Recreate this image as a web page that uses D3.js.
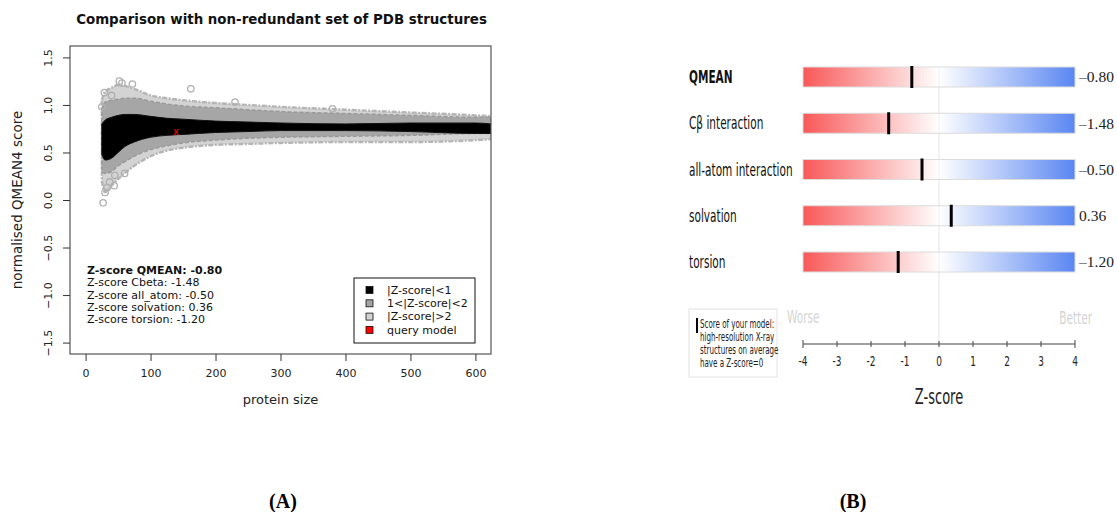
<!DOCTYPE html>
<html>
<head>
<meta charset="utf-8">
<script src="https://cdn.jsdelivr.net/npm/d3@7"></script>
<style>
  body { margin: 0; background: #fff; }
  svg { display: block; }
</style>
</head>
<body>
<div id="vis"></div>
<script>
// ---- panel A data ----
const sizes   = [25, 30, 40, 50, 60, 75, 100, 125, 150, 200, 250, 300, 400, 500, 600, 624];
const coreHi  = [0.80, 0.84, 0.87, 0.89, 0.90, 0.90, 0.88, 0.86, 0.85, 0.83, 0.82, 0.81, 0.80, 0.81, 0.81, 0.80];
const coreLo  = [0.48, 0.42, 0.44, 0.50, 0.56, 0.61, 0.66, 0.68, 0.69, 0.71, 0.72, 0.73, 0.73, 0.72, 0.70, 0.70];
const midHi   = [0.95, 1.03, 1.05, 1.06, 1.07, 1.07, 1.04, 1.01, 0.99, 0.97, 0.95, 0.93, 0.91, 0.89, 0.87, 0.87];
const midLo   = [0.30, 0.28, 0.30, 0.36, 0.40, 0.46, 0.53, 0.57, 0.60, 0.63, 0.65, 0.66, 0.67, 0.68, 0.70, 0.70];
const outHi   = [1.05, 1.14, 1.18, 1.21, 1.20, 1.17, 1.10, 1.07, 1.05, 1.02, 1.00, 0.98, 0.95, 0.92, 0.89, 0.88];
const outLo   = [0.20, 0.08, 0.15, 0.22, 0.28, 0.36, 0.46, 0.52, 0.55, 0.58, 0.59, 0.60, 0.61, 0.61, 0.63, 0.64];
const outlierSize  = [27, 30, 33, 44, 37, 52, 56, 72, 162, 29, 25, 60, 40, 230, 380, 45];
const outlierScore = [-0.03, 0.08, 0.13, 0.15, 0.19, 1.25, 1.23, 1.22, 1.17, 1.13, 0.98, 0.28, 1.10, 1.03, 0.96, 0.26];
const query = [139, 0.72];
const xTicksA = [0, 100, 200, 300, 400, 500, 600];
const yTicksA = [-1.5, -1.0, -0.5, 0.0, 0.5, 1.0, 1.5];
const legendLabels = ['|Z-score|<1', '1<|Z-score|<2', '|Z-score|>2', 'query model'];
const legendColors = ['#000000', '#a3a3a3', '#d3d3d3', '#ff0000'];
const summaryNames = ['QMEAN', 'Cbeta', 'all_atom', 'solvation', 'torsion'];

// ---- panel B data ----
const terms   = ['QMEAN', 'Cβ interaction', 'all-atom interaction', 'solvation', 'torsion'];
const zscores = [-0.80, -1.48, -0.50, 0.36, -1.20];
const zTicks  = [-4, -3, -2, -1, 0, 1, 2, 3, 4];
const noteLines = ['Score of your model:', 'high-resolution X-ray', 'structures on average', 'have a Z-score=0'];

const W = 1117, H = 512;
const svg = d3.select('#vis').append('svg').attr('width', W).attr('height', H);

// ================= panel A =================
const PL = 70, PR = 491, PT = 46, PB = 354;
const x = d3.scaleLinear().domain([-24, 624]).range([PL, PR]);
const y = d3.scaleLinear().domain([-1.62, 1.62]).range([PB, PT]);
const sans = 'DejaVu Sans, Verdana, sans-serif';

svg.append('clipPath').attr('id', 'clipA')
  .append('rect').attr('x', PL).attr('y', PT).attr('width', PR - PL).attr('height', PB - PT);

const plotA = svg.append('g').attr('clip-path', 'url(#clipA)');

function band(lo, hi) {
  const rows = sizes.map((s, i) => ({ s, lo: lo[i], hi: hi[i] }));
  return d3.area().x(d => x(d.s)).y0(d => y(d.lo)).y1(d => y(d.hi)).curve(d3.curveMonotoneX)(rows);
}

plotA.append('path').attr('d', band(outLo, outHi))
  .attr('fill', '#d3d3d3').attr('stroke', '#b5b5b5').attr('stroke-width', 2.4)
  .attr('stroke-dasharray', '5,1.5,2,1.5');
plotA.append('path').attr('d', band(midLo, midHi))
  .attr('fill', '#a6a6a6').attr('stroke', '#9a9a9a').attr('stroke-width', 1.5)
  .attr('stroke-dasharray', '4,2');
plotA.append('path').attr('d', band(coreLo, coreHi))
  .attr('fill', '#000').attr('stroke', '#111').attr('stroke-width', 1);

plotA.selectAll('circle.out')
  .data(outlierSize.map((s, i) => [s, outlierScore[i]]))
  .join('circle')
  .attr('cx', d => x(d[0])).attr('cy', d => y(d[1])).attr('r', 3.2)
  .attr('fill', 'none').attr('stroke', '#b0b0b0').attr('stroke-width', 1.3);

plotA.append('text').attr('x', x(query[0])).attr('y', y(query[1]))
  .attr('text-anchor', 'middle').attr('dy', '0.3em')
  .style('font-family', sans).style('font-size', '10px').attr('fill', '#ff0000').text('x');

// frame
svg.append('rect').attr('x', PL).attr('y', PT).attr('width', PR - PL).attr('height', PB - PT)
  .attr('fill', 'none').attr('stroke', '#555').attr('stroke-width', 1.2);

// axes
const xAxisA = svg.append('g').attr('transform', `translate(0,${PB})`)
  .call(d3.axisBottom(x).tickValues(xTicksA).tickSize(7).tickPadding(8));
const yAxisA = svg.append('g').attr('transform', `translate(${PL},0)`)
  .call(d3.axisLeft(y).tickValues(yTicksA).tickSize(7).tickFormat(d3.format('.1f')));
[xAxisA, yAxisA].forEach(a => {
  a.select('.domain').remove();
  a.selectAll('line').attr('stroke', '#333');
  a.selectAll('text').style('font-family', sans).style('font-size', '11px').attr('fill', '#222');
});
yAxisA.selectAll('text')
  .attr('x', null).attr('dy', null)
  .attr('text-anchor', 'middle')
  .attr('transform', 'translate(-22,0) rotate(-90)')
  .attr('dy', '0.35em');

// titles
svg.append('text').attr('x', (PL + PR) / 2 + 1).attr('y', 24).attr('text-anchor', 'middle')
  .style('font-family', sans).style('font-size', '13.4px').style('font-weight', 'bold')
  .attr('fill', '#111').text('Comparison with non-redundant set of PDB structures');
svg.append('text').attr('x', (PL + PR) / 2).attr('y', 404).attr('text-anchor', 'middle')
  .style('font-family', sans).style('font-size', '13px').attr('fill', '#222').text('protein size');
svg.append('text').attr('transform', `translate(22,${(PT + PB) / 2}) rotate(-90)`)
  .attr('text-anchor', 'middle')
  .style('font-family', sans).style('font-size', '13.5px').attr('fill', '#222').text('normalised QMEAN4 score');

// z-score summary
svg.append('g').selectAll('text')
  .data(summaryNames.map((n, i) => `Z-score ${n}: ${zscores[i].toFixed(2)}`))
  .join('text')
  .attr('x', 87).attr('y', (d, i) => 274 + i * 12.3)
  .style('font-family', sans).style('font-size', '11px')
  .style('font-weight', (d, i) => i === 0 ? 'bold' : 'normal')
  .attr('fill', '#111').text(d => d);

// legend
const legA = svg.append('g');
legA.append('rect').attr('x', 354).attr('y', 278).attr('width', 121).attr('height', 65)
  .attr('fill', '#fff').attr('stroke', '#111').attr('stroke-width', 1);
const legRows = legA.selectAll('g').data(legendLabels).join('g')
  .attr('transform', (d, i) => `translate(0,${290 + i * 13.3})`);
legRows.append('rect').attr('x', 366).attr('y', -3.5).attr('width', 7).attr('height', 7)
  .attr('fill', (d, i) => legendColors[i]).attr('stroke', '#111').attr('stroke-width', 0.8);
legRows.append('text').attr('x', 387).attr('dy', '0.35em')
  .style('font-family', sans).style('font-size', '11px').attr('fill', '#111').text(d => d);

// ================= panel B =================
const zx = d3.scaleLinear().domain([-4, 4]).range([803, 1075]);
const rowY = d3.scalePoint().domain(terms).range([77, 262]);
const BAR_H = 20;
const SQ = 0.62; // panel B text is horizontally squeezed
const dejavu = 'DejaVu Sans, Verdana, sans-serif';

const grad = svg.append('defs').append('linearGradient').attr('id', 'zgrad')
  .attr('x1', '0%').attr('x2', '100%');
grad.append('stop').attr('offset', '0%').attr('stop-color', '#f85858');
grad.append('stop').attr('offset', '50%').attr('stop-color', '#ffffff');
grad.append('stop').attr('offset', '100%').attr('stop-color', '#5a86f2');

// zero line
svg.append('line').attr('x1', zx(0)).attr('x2', zx(0)).attr('y1', rowY(terms[0]) - BAR_H / 2).attr('y2', 344)
  .attr('stroke', '#e4e4e4').attr('stroke-width', 1);

const rows = svg.append('g').selectAll('g').data(terms).join('g')
  .attr('transform', d => `translate(0,${rowY(d)})`);

rows.append('rect').attr('x', zx(-4)).attr('y', -BAR_H / 2).attr('width', zx(4) - zx(-4)).attr('height', BAR_H)
  .attr('fill', 'url(#zgrad)').attr('stroke', '#dcdcdc').attr('stroke-width', 1);
rows.append('line').attr('x1', zx(0)).attr('x2', zx(0)).attr('y1', -BAR_H / 2).attr('y2', BAR_H / 2)
  .attr('stroke', '#e8e8e8').attr('stroke-width', 1).attr('opacity', 0.6);
rows.append('rect')
  .attr('x', (d, i) => zx(zscores[i]) - 1.5).attr('y', -BAR_H / 2 - 1)
  .attr('width', 3).attr('height', BAR_H + 2).attr('fill', '#000');

rows.append('text')
  .attr('transform', `translate(689,0) scale(${SQ},1)`)
  .attr('dy', '0.36em')
  .style('font-family', dejavu).style('font-size', '17px')
  .style('font-weight', (d, i) => i === 0 ? 'bold' : 'normal')
  .attr('fill', '#111').text(d => d);

rows.append('text').attr('x', 1079).attr('dy', '0.34em')
  .style('font-family', 'Liberation Serif, Times New Roman, serif').style('font-size', '15.5px')
  .attr('fill', '#222')
  .text((d, i) => (zscores[i] < 0 ? '\u2013' : '') + Math.abs(zscores[i]).toFixed(2));

// Worse / Better
svg.append('text').attr('transform', `translate(787,323) scale(${SQ},1)`)
  .style('font-family', dejavu).style('font-size', '17px').attr('fill', '#d4d4d4').text('Worse');
svg.append('text').attr('transform', `translate(1092,324) scale(${SQ},1)`).attr('text-anchor', 'end')
  .style('font-family', dejavu).style('font-size', '17px').attr('fill', '#d4d4d4').text('Better');

// z axis
const zAxis = svg.append('g').attr('transform', 'translate(0,344)');
zAxis.append('line').attr('x1', zx(-4)).attr('x2', zx(4)).attr('stroke', '#444').attr('stroke-width', 1.2);
const zt = zAxis.selectAll('g').data(zTicks).join('g').attr('transform', d => `translate(${zx(d)},0)`);
zt.append('line').attr('y1', d => Math.abs(d) === 4 ? -4 : -3).attr('y2', d => Math.abs(d) === 4 ? 4 : 3)
  .attr('stroke', '#444').attr('stroke-width', 1);
zt.append('text').attr('transform', `translate(0,22) scale(${SQ},1)`).attr('text-anchor', 'middle')
  .style('font-family', dejavu).style('font-size', '14.5px').attr('fill', '#222').text(d => d);
svg.append('text').attr('transform', `translate(${zx(0)},404) scale(${SQ},1)`).attr('text-anchor', 'middle')
  .style('font-family', dejavu).style('font-size', '21px').attr('fill', '#222').text('Z-score');

// note box
svg.append('rect').attr('x', 689).attr('y', 309).attr('width', 88).attr('height', 68)
  .attr('fill', '#fff').attr('stroke', '#e2e2e2').attr('stroke-width', 1);
svg.append('rect').attr('x', 696).attr('y', 318).attr('width', 2).attr('height', 15).attr('fill', '#000');
svg.append('g').selectAll('text').data(noteLines).join('text')
  .attr('transform', (d, i) => `translate(700,${328 + i * 13}) scale(${SQ},1)`)
  .style('font-family', dejavu).style('font-size', '11.5px').attr('fill', '#222').text(d => d);

// panel letters
svg.selectAll('text.panel').data(['(A)', '(B)']).join('text').attr('class', 'panel')
  .attr('x', (d, i) => [283, 853][i]).attr('y', 508).attr('text-anchor', 'middle')
  .style('font-family', 'Liberation Serif, Times New Roman, serif').style('font-size', '20px')
  .style('font-weight', 'bold').attr('fill', '#000').text(d => d);
</script>
</body>
</html>
